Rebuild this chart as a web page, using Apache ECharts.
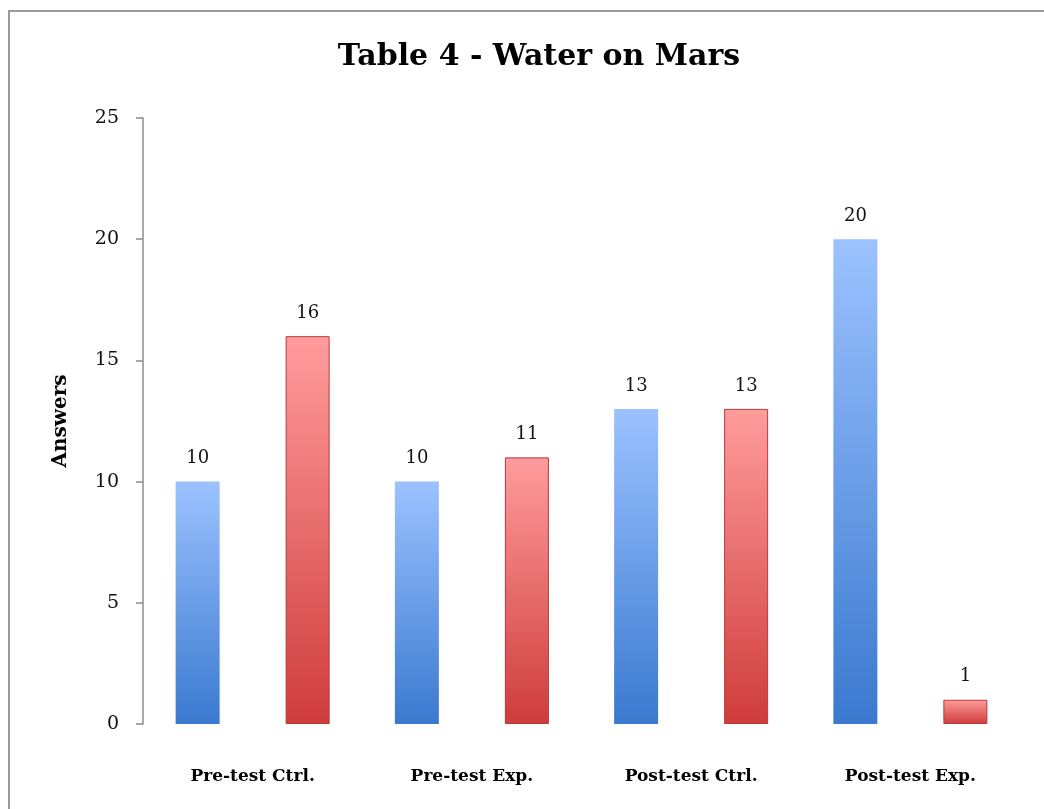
<!DOCTYPE html>
<html>
<head>
<meta charset="utf-8">
<script src="https://cdn.jsdelivr.net/npm/echarts@6/dist/echarts.min.js"></script>
<style>
  html, body { margin: 0; padding: 0; background: #fff; }
  #chart { width: 1044px; height: 809px; }
</style>
</head>
<body>
<div id="chart"></div>
<script>
const categories = ["Pre-test Ctrl.", "Pre-test Exp.", "Post-test Ctrl.", "Post-test Exp."];
const blueValues = [10, 10, 13, 20];
const redValues = [16, 11, 13, 1];
const yTicks = [0, 5, 10, 15, 20, 25];

const serif = "'DejaVu Serif', 'Liberation Serif', serif";

const chart = echarts.init(document.getElementById("chart"));

const blueFill = new echarts.graphic.LinearGradient(0, 0, 0, 1, [
  { offset: 0, color: "#9cc2ff" },
  { offset: 1, color: "#3a79cf" },
]);
const redFill = new echarts.graphic.LinearGradient(0, 0, 0, 1, [
  { offset: 0, color: "#ff9c9c" },
  { offset: 1, color: "#cf3c3c" },
]);

const labelStyle = {
  show: true,
  position: "top",
  distance: 14,
  fontFamily: serif,
  fontSize: 18,
  color: "#111",
};

chart.setOption({
  backgroundColor: "#fff",
  animation: false,
  title: {
    text: "Table 4 - Water on Mars",
    left: 534,
    top: 37,
    textAlign: "center",
    textStyle: {
      fontFamily: serif,
      fontSize: 30,
      fontWeight: "bold",
      color: "#000",
    },
  },
  graphic: [
    {
      type: "rect",
      shape: { x: 9, y: 11, width: 1060, height: 830 },
      style: { fill: "none", stroke: "#9a9a9a", lineWidth: 2 },
      silent: true,
    },
  ],
  grid: {
    left: 143,
    right: 24,
    top: 118,
    bottom: 85,
    containLabel: false,
  },
  xAxis: {
    type: "category",
    data: categories,
    axisLine: { show: false },
    axisTick: { show: false },
    axisLabel: {
      margin: 44,
      fontFamily: serif,
      fontSize: 17,
      fontWeight: "bold",
      color: "#000",
    },
  },
  yAxis: {
    type: "value",
    min: yTicks[0],
    max: yTicks[yTicks.length - 1],
    interval: 5,
    name: "Answers",
    nameLocation: "middle",
    nameGap: 72,
    nameRotate: 90,
    nameTextStyle: {
      fontFamily: serif,
      fontSize: 20,
      fontWeight: "bold",
      color: "#000",
    },
    axisLine: { show: true, lineStyle: { color: "#8c8c8c", width: 1.5 } },
    axisTick: { show: true, length: 7, lineStyle: { color: "#8c8c8c", width: 1.5 } },
    axisLabel: {
      margin: 24,
      fontFamily: serif,
      fontSize: 19,
      color: "#111",
    },
    splitLine: { show: false },
  },
  series: [
    {
      name: "Blue",
      type: "bar",
      data: blueValues,
      barWidth: 44,
      barGap: "150%",
      itemStyle: { color: blueFill },
      label: labelStyle,
    },
    {
      name: "Red",
      type: "bar",
      data: redValues,
      barWidth: 44,
      itemStyle: { color: redFill, borderColor: "#b83a3a", borderWidth: 1 },
      label: labelStyle,
    },
  ],
});

window.addEventListener("resize", () => chart.resize());
</script>
</body>
</html>
